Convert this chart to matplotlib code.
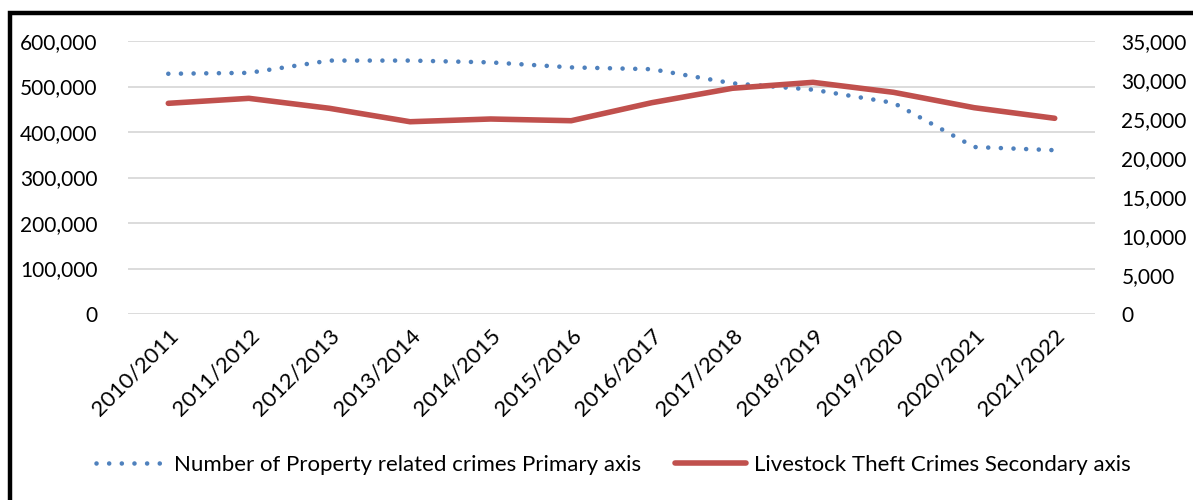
import matplotlib.pyplot as plt
from matplotlib.patches import Rectangle
from matplotlib.ticker import FuncFormatter

plt.rcParams['font.family'] = ['Lato', 'DejaVu Sans']

years = ["2010/2011", "2011/2012", "2012/2013", "2013/2014", "2014/2015", "2015/2016",
         "2016/2017", "2017/2018", "2018/2019", "2019/2020", "2020/2021", "2021/2022"]
property_crimes = [528000, 530000, 557000, 557000, 553000, 542000,
                   538000, 507000, 493000, 464000, 367000, 360000]
livestock_theft = [27010, 27650, 26370, 24650, 25000, 24780,
                   27090, 28940, 29700, 28420, 26450, 25090]

blue = "#4F81BD"
red = "#C0504D"

fig = plt.figure(figsize=(11.93, 5.0), dpi=100)
ax = fig.add_axes([128 / 1193, 186 / 500, 967 / 1193, 273 / 500])
ax2 = ax.twinx()

x = range(len(years))
l1, = ax.plot(x, property_crimes, color=blue, lw=3.3, linestyle=(0, (0.01, 2.75)),
              dash_capstyle='round', label="Number of Property related crimes Primary axis")
l2, = ax2.plot(x, livestock_theft, color=red, lw=4.0, solid_capstyle='round',
               label="Livestock Theft Crimes Secondary axis")

ax.set_xlim(-0.5, len(years) - 0.5)
ax.set_ylim(0, 600000)
ax.set_yticks(range(0, 600001, 100000))
ax2.set_ylim(0, 35000)
ax2.set_yticks(range(0, 35001, 5000))

fmt = FuncFormatter(lambda v, p: f"{int(v):,}")
ax.yaxis.set_major_formatter(fmt)
ax2.yaxis.set_major_formatter(fmt)

ax.grid(axis='y', color='#d9d9d9', lw=1.3)
ax.set_axisbelow(True)
for a in (ax, ax2):
    for s in a.spines.values():
        s.set_visible(False)

ax.set_xticks(list(x))
ax.set_xticklabels(years, rotation=45, ha='right', rotation_mode='anchor')
ax.tick_params(axis='x', length=0, pad=8, labelsize=16)
ax.tick_params(axis='y', length=0, pad=22, labelsize=15)
ax2.tick_params(axis='y', length=0, pad=19, labelsize=15)

fig.legend(handles=[l1, l2], loc='center', bbox_to_anchor=(613 / 1193, 35 / 500), ncol=2,
           frameon=False, fontsize=16, handlelength=3.2, columnspacing=1.5, handletextpad=0.35)

# black frame around the chart area
fig.patches.append(Rectangle((10 / 1193, -0.1), 1.2, 0.1 + 487 / 500, transform=fig.transFigure,
                             fill=False, edgecolor='black', lw=3.2))

fig.savefig("out.png", dpi=100)
